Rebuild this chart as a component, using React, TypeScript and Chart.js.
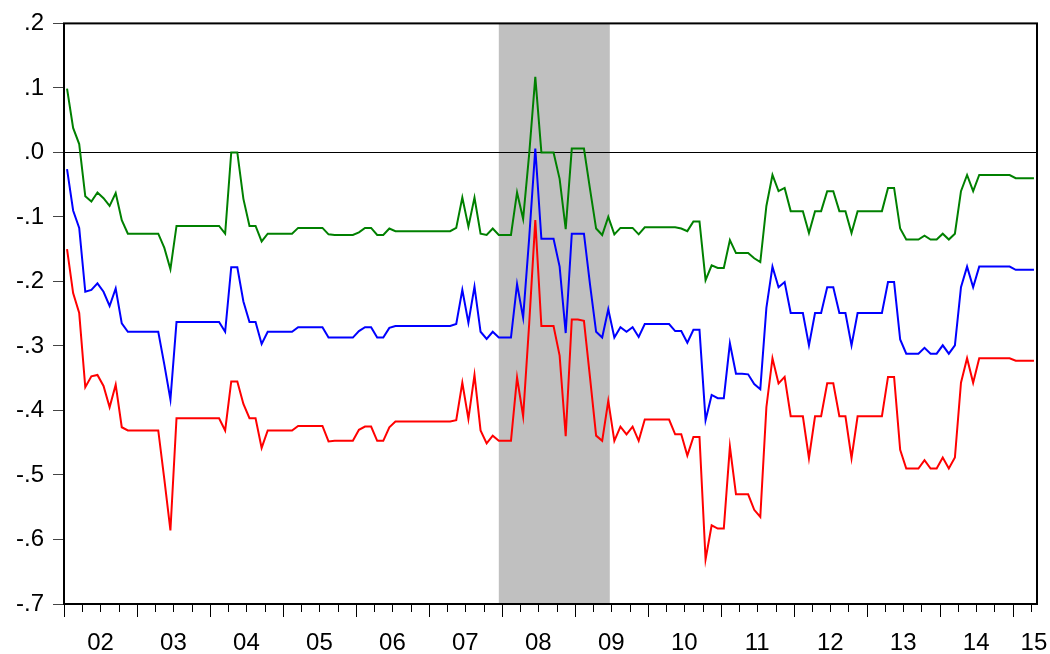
import { useEffect, useRef } from 'react';
import { Chart, registerables } from 'chart.js';

Chart.register(...registerables);

// Monthly observations, 2002M01 .. 2015M04
const START_YEAR = 2002;
const YEAR_LABELS = ['02', '03', '04', '05', '06', '07', '08', '09', '10', '11', '12', '13', '14', '15'];
const RECESSION_START = '2007M12';
const RECESSION_END = '2009M06';

const GREEN = [
  0.099, 0.038, 0.013, -0.068, -0.076, -0.062, -0.071, -0.083, -0.063, -0.105,
  -0.126, -0.126, -0.126, -0.126, -0.126, -0.126, -0.148, -0.181, -0.114, -0.114,
  -0.114, -0.114, -0.114, -0.114, -0.114, -0.114, -0.126, 0.0, 0.0, -0.072,
  -0.114, -0.114, -0.138, -0.126, -0.126, -0.126, -0.126, -0.126, -0.117, -0.117,
  -0.117, -0.117, -0.117, -0.127, -0.128, -0.128, -0.128, -0.128, -0.124, -0.117,
  -0.117, -0.128, -0.128, -0.118, -0.122, -0.122, -0.122, -0.122, -0.122, -0.122,
  -0.122, -0.122, -0.122, -0.122, -0.117, -0.070, -0.115, -0.070, -0.126, -0.128,
  -0.118, -0.128, -0.128, -0.128, -0.062, -0.103, -0.002, 0.117, 0.0, 0.0,
  0.0, -0.041, -0.119, 0.006, 0.006, 0.006, -0.057, -0.118, -0.128, -0.100,
  -0.127, -0.117, -0.117, -0.117, -0.127, -0.116, -0.116, -0.116, -0.116, -0.116,
  -0.116, -0.118, -0.122, -0.107, -0.107, -0.198, -0.175, -0.179, -0.179, -0.136,
  -0.156, -0.156, -0.156, -0.164, -0.170, -0.083, -0.035, -0.060, -0.055, -0.091,
  -0.091, -0.091, -0.125, -0.091, -0.091, -0.060, -0.060, -0.091, -0.091, -0.125,
  -0.091, -0.091, -0.091, -0.091, -0.091, -0.055, -0.055, -0.118, -0.135, -0.135,
  -0.135, -0.129, -0.135, -0.135, -0.126, -0.135, -0.126, -0.060, -0.035, -0.060,
  -0.035, -0.035, -0.035, -0.035, -0.035, -0.035, -0.040, -0.040, -0.040, -0.040,
];

const BLUE = [
  -0.026, -0.090, -0.117, -0.216, -0.213, -0.203, -0.216, -0.238, -0.211, -0.265,
  -0.278, -0.278, -0.278, -0.278, -0.278, -0.278, -0.329, -0.383, -0.263, -0.263,
  -0.263, -0.263, -0.263, -0.263, -0.263, -0.263, -0.278, -0.178, -0.178, -0.231,
  -0.263, -0.263, -0.297, -0.278, -0.278, -0.278, -0.278, -0.278, -0.271, -0.271,
  -0.271, -0.271, -0.271, -0.287, -0.287, -0.287, -0.287, -0.287, -0.277, -0.271,
  -0.271, -0.287, -0.287, -0.272, -0.269, -0.269, -0.269, -0.269, -0.269, -0.269,
  -0.269, -0.269, -0.269, -0.269, -0.266, -0.213, -0.264, -0.208, -0.278, -0.289,
  -0.278, -0.287, -0.287, -0.287, -0.204, -0.256, -0.132, 0.006, -0.134, -0.134,
  -0.134, -0.177, -0.280, -0.126, -0.126, -0.126, -0.205, -0.278, -0.287, -0.243,
  -0.287, -0.271, -0.278, -0.271, -0.286, -0.266, -0.266, -0.266, -0.266, -0.266,
  -0.277, -0.277, -0.295, -0.275, -0.275, -0.415, -0.376, -0.381, -0.381, -0.296,
  -0.343, -0.343, -0.344, -0.359, -0.367, -0.241, -0.177, -0.209, -0.201, -0.249,
  -0.249, -0.249, -0.299, -0.249, -0.249, -0.209, -0.209, -0.249, -0.249, -0.299,
  -0.249, -0.249, -0.249, -0.249, -0.249, -0.201, -0.201, -0.290, -0.312, -0.312,
  -0.312, -0.303, -0.312, -0.312, -0.299, -0.312, -0.299, -0.209, -0.177, -0.209,
  -0.177, -0.177, -0.177, -0.177, -0.177, -0.177, -0.182, -0.182, -0.182, -0.182,
];

const RED = [
  -0.150, -0.218, -0.249, -0.364, -0.347, -0.345, -0.362, -0.395, -0.360, -0.426,
  -0.431, -0.431, -0.431, -0.431, -0.431, -0.431, -0.507, -0.586, -0.412, -0.412,
  -0.412, -0.412, -0.412, -0.412, -0.412, -0.412, -0.431, -0.355, -0.355, -0.390,
  -0.412, -0.412, -0.458, -0.431, -0.431, -0.431, -0.431, -0.431, -0.424, -0.424,
  -0.424, -0.424, -0.424, -0.448, -0.447, -0.447, -0.447, -0.447, -0.430, -0.425,
  -0.425, -0.447, -0.447, -0.426, -0.417, -0.417, -0.417, -0.417, -0.417, -0.417,
  -0.417, -0.417, -0.417, -0.417, -0.415, -0.357, -0.413, -0.345, -0.431, -0.451,
  -0.439, -0.447, -0.447, -0.447, -0.349, -0.409, -0.265, -0.105, -0.269, -0.269,
  -0.269, -0.315, -0.440, -0.259, -0.259, -0.261, -0.349, -0.439, -0.447, -0.385,
  -0.447, -0.425, -0.437, -0.425, -0.447, -0.414, -0.414, -0.414, -0.414, -0.414,
  -0.437, -0.437, -0.470, -0.441, -0.441, -0.631, -0.578, -0.583, -0.583, -0.456,
  -0.530, -0.530, -0.530, -0.554, -0.565, -0.395, -0.319, -0.358, -0.348, -0.409,
  -0.409, -0.409, -0.474, -0.409, -0.409, -0.358, -0.358, -0.409, -0.409, -0.474,
  -0.409, -0.409, -0.409, -0.409, -0.409, -0.348, -0.348, -0.461, -0.490, -0.490,
  -0.490, -0.477, -0.490, -0.490, -0.473, -0.490, -0.473, -0.357, -0.319, -0.357,
  -0.319, -0.319, -0.319, -0.319, -0.319, -0.319, -0.323, -0.323, -0.323, -0.323,
];

const N = GREEN.length;

function monthIndex(code: string): number {
  const [y, m] = code.split('M').map(Number);
  return (y - START_YEAR) * 12 + (m - 1);
}

function toPoints(values: number[]) {
  return values.map((v, i) => ({ x: i + 0.5, y: v }));
}

const FONT = '"Liberation Sans", Arial, Helvetica, sans-serif';

const decorPlugin = {
  id: 'eviewsDecor',
  beforeDatasetsDraw(chart: any) {
    const { ctx, chartArea: a, scales } = chart;
    const x = scales.x;
    const y = scales.y;
    ctx.save();
    const s = monthIndex(RECESSION_START) + 0.5;
    const e = monthIndex(RECESSION_END) + 0.75;
    const x0 = x.getPixelForValue(s);
    const x1 = x.getPixelForValue(e);
    ctx.fillStyle = '#C0C0C0';
    ctx.fillRect(x0, a.top, x1 - x0, a.bottom - a.top);
    const yz = Math.round(y.getPixelForValue(0)) + 0.5;
    ctx.strokeStyle = '#000';
    ctx.lineWidth = 1;
    ctx.beginPath();
    ctx.moveTo(a.left, yz);
    ctx.lineTo(a.right, yz);
    ctx.stroke();
    ctx.restore();
  },
  afterDraw(chart: any) {
    const { ctx, chartArea: a, scales } = chart;
    const x = scales.x;
    ctx.save();
    ctx.strokeStyle = '#000';
    ctx.lineWidth = 1;
    ctx.beginPath();
    for (let m = 0; m < N; m += 3) {
      const px = Math.round(x.getPixelForValue(m)) + 0.5;
      const len = m % 12 === 0 ? 13 : 8;
      ctx.moveTo(px, a.bottom);
      ctx.lineTo(px, a.bottom + len);
    }
    ctx.stroke();
    ctx.lineWidth = 2;
    ctx.strokeRect(a.left, a.top, a.right - a.left, a.bottom - a.top);
    ctx.restore();
  },
};

export default function App() {
  const ref = useRef<HTMLCanvasElement>(null);

  useEffect(() => {
    if (!ref.current) return;
    const labelPositions = YEAR_LABELS.map((_, k) => Math.min(k * 12 + 6, N - 0.5));
    const chart = new Chart(ref.current, {
      type: 'line',
      data: {
        datasets: [
          { data: toPoints(RED), borderColor: '#FF0000', borderWidth: 2, pointRadius: 0, tension: 0, fill: false },
          { data: toPoints(BLUE), borderColor: '#0000FF', borderWidth: 2, pointRadius: 0, tension: 0, fill: false },
          { data: toPoints(GREEN), borderColor: '#008000', borderWidth: 2, pointRadius: 0, tension: 0, fill: false },
        ],
      },
      options: {
        responsive: false,
        animation: false,
        events: [],
        layout: { padding: { left: 0, right: 13, top: 20, bottom: 0 } },
        plugins: { legend: { display: false }, tooltip: { enabled: false } },
        scales: {
          x: {
            type: 'linear',
            min: 0,
            max: N,
            grid: { display: false },
            border: { display: false },
            afterFit: (s: any) => { s.height = 50; },
            afterBuildTicks: (s: any) => { s.ticks = labelPositions.map((v) => ({ value: v })); },
            ticks: {
              autoSkip: false,
              maxRotation: 0,
              minRotation: 0,
              padding: 0,
              color: '#000',
              font: { family: FONT, size: 24, lineHeight: '62px' },
              callback: (v: any) => {
                const idx = labelPositions.indexOf(Number(v));
                return idx >= 0 ? YEAR_LABELS[idx] : '';
              },
            },
          },
          y: {
            type: 'linear',
            min: -0.7,
            max: 0.2,
            grid: { display: true, drawOnChartArea: false, drawTicks: true, tickLength: 11, tickColor: '#444', tickWidth: 1 },
            border: { display: false },
            afterFit: (s: any) => { s.width = 64; },
            ticks: {
              stepSize: 0.1,
              padding: 9,
              color: '#000',
              font: { family: FONT, size: 24 },
              callback: (v: any) => {
                const n = Number(v);
                if (Math.abs(n) < 1e-9) return '.0';
                return n.toFixed(1).replace('0.', '.');
              },
            },
          },
        },
      },
      plugins: [decorPlugin],
    });
    return () => chart.destroy();
  }, []);

  return (
    <canvas
      ref={ref}
      width={1050}
      height={654}
      style={{ position: 'absolute', left: 0, top: 0, display: 'block' }}
    />
  );
}
